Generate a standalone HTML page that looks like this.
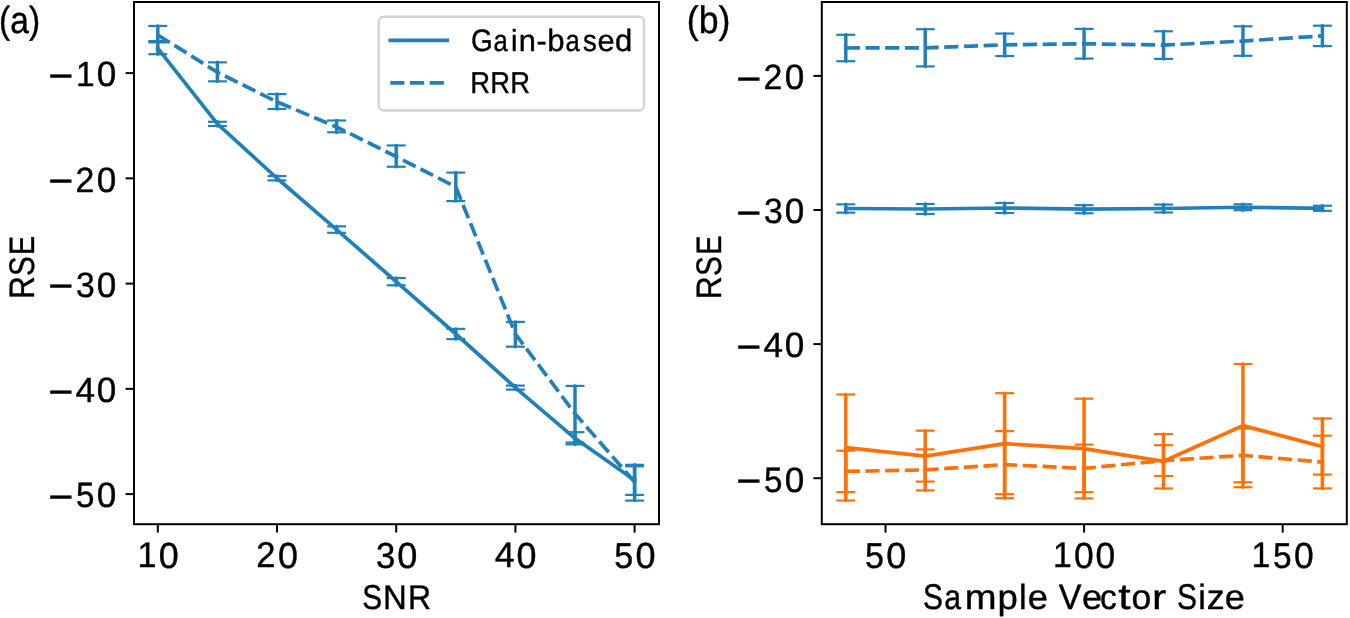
<!DOCTYPE html>
<html><head><meta charset="utf-8"><title>RSE vs SNR and Sample Vector Size</title>
<style>html,body{margin:0;padding:0;background:#fff;width:1350px;height:618px;overflow:hidden}svg{display:block;will-change:transform}text{font-family:"Liberation Sans",sans-serif;text-rendering:geometricPrecision;stroke:#000;stroke-width:0.4px;stroke-linejoin:round}</style>
</head><body>
<svg width="1350" height="618" viewBox="0 0 1350 618">
<rect x="0" y="0" width="1350" height="618" fill="#fff"/>
<g id="panel-a">
<line x1="157.8" y1="42.4" x2="157.8" y2="54.2" stroke="#2180b9" stroke-width="3.5" stroke-linecap="round"/>
<line x1="217.4" y1="121.8" x2="217.4" y2="126" stroke="#2180b9" stroke-width="3.5" stroke-linecap="round"/>
<line x1="277" y1="176.1" x2="277" y2="180.4" stroke="#2180b9" stroke-width="3.5" stroke-linecap="round"/>
<line x1="336.6" y1="226.4" x2="336.6" y2="232.8" stroke="#2180b9" stroke-width="3.5" stroke-linecap="round"/>
<line x1="396.2" y1="278.1" x2="396.2" y2="285.3" stroke="#2180b9" stroke-width="3.5" stroke-linecap="round"/>
<line x1="455.8" y1="328.9" x2="455.8" y2="339.1" stroke="#2180b9" stroke-width="3.5" stroke-linecap="round"/>
<line x1="515.4" y1="385.6" x2="515.4" y2="389.6" stroke="#2180b9" stroke-width="3.5" stroke-linecap="round"/>
<line x1="575" y1="432.2" x2="575" y2="444.4" stroke="#2180b9" stroke-width="3.5" stroke-linecap="round"/>
<line x1="634.6" y1="464.8" x2="634.6" y2="494.9" stroke="#2180b9" stroke-width="3.5" stroke-linecap="round"/>
<line x1="148.35" y1="42.4" x2="167.25" y2="42.4" stroke="#2180b9" stroke-width="2.2" stroke-linecap="butt"/>
<line x1="148.35" y1="54.2" x2="167.25" y2="54.2" stroke="#2180b9" stroke-width="2.2" stroke-linecap="butt"/>
<line x1="207.95" y1="121.8" x2="226.85" y2="121.8" stroke="#2180b9" stroke-width="2.2" stroke-linecap="butt"/>
<line x1="207.95" y1="126" x2="226.85" y2="126" stroke="#2180b9" stroke-width="2.2" stroke-linecap="butt"/>
<line x1="267.55" y1="176.1" x2="286.45" y2="176.1" stroke="#2180b9" stroke-width="2.2" stroke-linecap="butt"/>
<line x1="267.55" y1="180.4" x2="286.45" y2="180.4" stroke="#2180b9" stroke-width="2.2" stroke-linecap="butt"/>
<line x1="327.15" y1="226.4" x2="346.05" y2="226.4" stroke="#2180b9" stroke-width="2.2" stroke-linecap="butt"/>
<line x1="327.15" y1="232.8" x2="346.05" y2="232.8" stroke="#2180b9" stroke-width="2.2" stroke-linecap="butt"/>
<line x1="386.75" y1="278.1" x2="405.65" y2="278.1" stroke="#2180b9" stroke-width="2.2" stroke-linecap="butt"/>
<line x1="386.75" y1="285.3" x2="405.65" y2="285.3" stroke="#2180b9" stroke-width="2.2" stroke-linecap="butt"/>
<line x1="446.35" y1="328.9" x2="465.25" y2="328.9" stroke="#2180b9" stroke-width="2.2" stroke-linecap="butt"/>
<line x1="446.35" y1="339.1" x2="465.25" y2="339.1" stroke="#2180b9" stroke-width="2.2" stroke-linecap="butt"/>
<line x1="505.95" y1="385.6" x2="524.85" y2="385.6" stroke="#2180b9" stroke-width="2.2" stroke-linecap="butt"/>
<line x1="505.95" y1="389.6" x2="524.85" y2="389.6" stroke="#2180b9" stroke-width="2.2" stroke-linecap="butt"/>
<line x1="565.55" y1="432.2" x2="584.45" y2="432.2" stroke="#2180b9" stroke-width="2.2" stroke-linecap="butt"/>
<line x1="565.55" y1="444.4" x2="584.45" y2="444.4" stroke="#2180b9" stroke-width="2.2" stroke-linecap="butt"/>
<line x1="625.15" y1="464.8" x2="644.05" y2="464.8" stroke="#2180b9" stroke-width="2.2" stroke-linecap="butt"/>
<line x1="625.15" y1="494.9" x2="644.05" y2="494.9" stroke="#2180b9" stroke-width="2.2" stroke-linecap="butt"/>
<line x1="157.8" y1="25.95" x2="157.8" y2="41.05" stroke="#2180b9" stroke-width="3.5" stroke-linecap="round"/>
<line x1="217.4" y1="62.35" x2="217.4" y2="81.35" stroke="#2180b9" stroke-width="3.5" stroke-linecap="round"/>
<line x1="277" y1="94.1" x2="277" y2="109" stroke="#2180b9" stroke-width="3.5" stroke-linecap="round"/>
<line x1="336.6" y1="120.5" x2="336.6" y2="132.3" stroke="#2180b9" stroke-width="3.5" stroke-linecap="round"/>
<line x1="396.2" y1="145.45" x2="396.2" y2="166.75" stroke="#2180b9" stroke-width="3.5" stroke-linecap="round"/>
<line x1="455.8" y1="172.6" x2="455.8" y2="201.1" stroke="#2180b9" stroke-width="3.5" stroke-linecap="round"/>
<line x1="515.4" y1="321.9" x2="515.4" y2="346.7" stroke="#2180b9" stroke-width="3.5" stroke-linecap="round"/>
<line x1="575" y1="385.9" x2="575" y2="442.5" stroke="#2180b9" stroke-width="3.5" stroke-linecap="round"/>
<line x1="634.6" y1="466.3" x2="634.6" y2="500.6" stroke="#2180b9" stroke-width="3.5" stroke-linecap="round"/>
<line x1="148.35" y1="25.95" x2="167.25" y2="25.95" stroke="#2180b9" stroke-width="2.2" stroke-linecap="butt"/>
<line x1="148.35" y1="41.05" x2="167.25" y2="41.05" stroke="#2180b9" stroke-width="2.2" stroke-linecap="butt"/>
<line x1="207.95" y1="62.35" x2="226.85" y2="62.35" stroke="#2180b9" stroke-width="2.2" stroke-linecap="butt"/>
<line x1="207.95" y1="81.35" x2="226.85" y2="81.35" stroke="#2180b9" stroke-width="2.2" stroke-linecap="butt"/>
<line x1="267.55" y1="94.1" x2="286.45" y2="94.1" stroke="#2180b9" stroke-width="2.2" stroke-linecap="butt"/>
<line x1="267.55" y1="109" x2="286.45" y2="109" stroke="#2180b9" stroke-width="2.2" stroke-linecap="butt"/>
<line x1="327.15" y1="120.5" x2="346.05" y2="120.5" stroke="#2180b9" stroke-width="2.2" stroke-linecap="butt"/>
<line x1="327.15" y1="132.3" x2="346.05" y2="132.3" stroke="#2180b9" stroke-width="2.2" stroke-linecap="butt"/>
<line x1="386.75" y1="145.45" x2="405.65" y2="145.45" stroke="#2180b9" stroke-width="2.2" stroke-linecap="butt"/>
<line x1="386.75" y1="166.75" x2="405.65" y2="166.75" stroke="#2180b9" stroke-width="2.2" stroke-linecap="butt"/>
<line x1="446.35" y1="172.6" x2="465.25" y2="172.6" stroke="#2180b9" stroke-width="2.2" stroke-linecap="butt"/>
<line x1="446.35" y1="201.1" x2="465.25" y2="201.1" stroke="#2180b9" stroke-width="2.2" stroke-linecap="butt"/>
<line x1="505.95" y1="321.9" x2="524.85" y2="321.9" stroke="#2180b9" stroke-width="2.2" stroke-linecap="butt"/>
<line x1="505.95" y1="346.7" x2="524.85" y2="346.7" stroke="#2180b9" stroke-width="2.2" stroke-linecap="butt"/>
<line x1="565.55" y1="385.9" x2="584.45" y2="385.9" stroke="#2180b9" stroke-width="2.2" stroke-linecap="butt"/>
<line x1="565.55" y1="442.5" x2="584.45" y2="442.5" stroke="#2180b9" stroke-width="2.2" stroke-linecap="butt"/>
<line x1="625.15" y1="466.3" x2="644.05" y2="466.3" stroke="#2180b9" stroke-width="2.2" stroke-linecap="butt"/>
<line x1="625.15" y1="500.6" x2="644.05" y2="500.6" stroke="#2180b9" stroke-width="2.2" stroke-linecap="butt"/>
<polyline points="157.8,48.3 217.4,123.9 277,178.25 336.6,229.6 396.2,281.7 455.8,334 515.4,387.6 575,438.3 634.6,480.1" fill="none" stroke="#2180b9" stroke-width="3.71" stroke-linecap="square" stroke-linejoin="round"/>
<polyline points="157.8,35 217.4,72.25 277,101.85 336.6,127 396.2,156.6 455.8,187.05 515.4,334 575,413.6 634.6,482" fill="none" stroke="#2180b9" stroke-width="3.71" stroke-dasharray="14.15 5.54" stroke-linecap="butt" stroke-linejoin="round"/>
</g>
<g id="panel-b">
<line x1="845.8" y1="34.8" x2="845.8" y2="61.2" stroke="#2180b9" stroke-width="3.5" stroke-linecap="round"/>
<line x1="925.23" y1="29.2" x2="925.23" y2="66.4" stroke="#2180b9" stroke-width="3.5" stroke-linecap="round"/>
<line x1="1004.67" y1="33.55" x2="1004.67" y2="56.05" stroke="#2180b9" stroke-width="3.5" stroke-linecap="round"/>
<line x1="1084.1" y1="28.9" x2="1084.1" y2="58.6" stroke="#2180b9" stroke-width="3.5" stroke-linecap="round"/>
<line x1="1163.54" y1="31.3" x2="1163.54" y2="58.9" stroke="#2180b9" stroke-width="3.5" stroke-linecap="round"/>
<line x1="1242.97" y1="26.3" x2="1242.97" y2="55.8" stroke="#2180b9" stroke-width="3.5" stroke-linecap="round"/>
<line x1="1322.4" y1="25.7" x2="1322.4" y2="46.1" stroke="#2180b9" stroke-width="3.5" stroke-linecap="round"/>
<line x1="836.35" y1="34.8" x2="855.25" y2="34.8" stroke="#2180b9" stroke-width="2.2" stroke-linecap="butt"/>
<line x1="836.35" y1="61.2" x2="855.25" y2="61.2" stroke="#2180b9" stroke-width="2.2" stroke-linecap="butt"/>
<line x1="915.78" y1="29.2" x2="934.68" y2="29.2" stroke="#2180b9" stroke-width="2.2" stroke-linecap="butt"/>
<line x1="915.78" y1="66.4" x2="934.68" y2="66.4" stroke="#2180b9" stroke-width="2.2" stroke-linecap="butt"/>
<line x1="995.22" y1="33.55" x2="1014.12" y2="33.55" stroke="#2180b9" stroke-width="2.2" stroke-linecap="butt"/>
<line x1="995.22" y1="56.05" x2="1014.12" y2="56.05" stroke="#2180b9" stroke-width="2.2" stroke-linecap="butt"/>
<line x1="1074.65" y1="28.9" x2="1093.55" y2="28.9" stroke="#2180b9" stroke-width="2.2" stroke-linecap="butt"/>
<line x1="1074.65" y1="58.6" x2="1093.55" y2="58.6" stroke="#2180b9" stroke-width="2.2" stroke-linecap="butt"/>
<line x1="1154.09" y1="31.3" x2="1172.99" y2="31.3" stroke="#2180b9" stroke-width="2.2" stroke-linecap="butt"/>
<line x1="1154.09" y1="58.9" x2="1172.99" y2="58.9" stroke="#2180b9" stroke-width="2.2" stroke-linecap="butt"/>
<line x1="1233.52" y1="26.3" x2="1252.42" y2="26.3" stroke="#2180b9" stroke-width="2.2" stroke-linecap="butt"/>
<line x1="1233.52" y1="55.8" x2="1252.42" y2="55.8" stroke="#2180b9" stroke-width="2.2" stroke-linecap="butt"/>
<line x1="1312.95" y1="25.7" x2="1331.85" y2="25.7" stroke="#2180b9" stroke-width="2.2" stroke-linecap="butt"/>
<line x1="1312.95" y1="46.1" x2="1331.85" y2="46.1" stroke="#2180b9" stroke-width="2.2" stroke-linecap="butt"/>
<line x1="845.8" y1="204.35" x2="845.8" y2="212.65" stroke="#2180b9" stroke-width="3.5" stroke-linecap="round"/>
<line x1="925.23" y1="204" x2="925.23" y2="214" stroke="#2180b9" stroke-width="3.5" stroke-linecap="round"/>
<line x1="1004.67" y1="203" x2="1004.67" y2="213" stroke="#2180b9" stroke-width="3.5" stroke-linecap="round"/>
<line x1="1084.1" y1="205.15" x2="1084.1" y2="213.25" stroke="#2180b9" stroke-width="3.5" stroke-linecap="round"/>
<line x1="1163.54" y1="204.55" x2="1163.54" y2="212.45" stroke="#2180b9" stroke-width="3.5" stroke-linecap="round"/>
<line x1="1242.97" y1="204.3" x2="1242.97" y2="210.2" stroke="#2180b9" stroke-width="3.5" stroke-linecap="round"/>
<line x1="1322.4" y1="205.75" x2="1322.4" y2="210.85" stroke="#2180b9" stroke-width="3.5" stroke-linecap="round"/>
<line x1="836.35" y1="204.35" x2="855.25" y2="204.35" stroke="#2180b9" stroke-width="2.2" stroke-linecap="butt"/>
<line x1="836.35" y1="212.65" x2="855.25" y2="212.65" stroke="#2180b9" stroke-width="2.2" stroke-linecap="butt"/>
<line x1="915.78" y1="204" x2="934.68" y2="204" stroke="#2180b9" stroke-width="2.2" stroke-linecap="butt"/>
<line x1="915.78" y1="214" x2="934.68" y2="214" stroke="#2180b9" stroke-width="2.2" stroke-linecap="butt"/>
<line x1="995.22" y1="203" x2="1014.12" y2="203" stroke="#2180b9" stroke-width="2.2" stroke-linecap="butt"/>
<line x1="995.22" y1="213" x2="1014.12" y2="213" stroke="#2180b9" stroke-width="2.2" stroke-linecap="butt"/>
<line x1="1074.65" y1="205.15" x2="1093.55" y2="205.15" stroke="#2180b9" stroke-width="2.2" stroke-linecap="butt"/>
<line x1="1074.65" y1="213.25" x2="1093.55" y2="213.25" stroke="#2180b9" stroke-width="2.2" stroke-linecap="butt"/>
<line x1="1154.09" y1="204.55" x2="1172.99" y2="204.55" stroke="#2180b9" stroke-width="2.2" stroke-linecap="butt"/>
<line x1="1154.09" y1="212.45" x2="1172.99" y2="212.45" stroke="#2180b9" stroke-width="2.2" stroke-linecap="butt"/>
<line x1="1233.52" y1="204.3" x2="1252.42" y2="204.3" stroke="#2180b9" stroke-width="2.2" stroke-linecap="butt"/>
<line x1="1233.52" y1="210.2" x2="1252.42" y2="210.2" stroke="#2180b9" stroke-width="2.2" stroke-linecap="butt"/>
<line x1="1312.95" y1="205.75" x2="1331.85" y2="205.75" stroke="#2180b9" stroke-width="2.2" stroke-linecap="butt"/>
<line x1="1312.95" y1="210.85" x2="1331.85" y2="210.85" stroke="#2180b9" stroke-width="2.2" stroke-linecap="butt"/>
<line x1="845.8" y1="394.5" x2="845.8" y2="500.5" stroke="#ff7006" stroke-width="3.5" stroke-linecap="round"/>
<line x1="925.23" y1="430.7" x2="925.23" y2="481.6" stroke="#ff7006" stroke-width="3.5" stroke-linecap="round"/>
<line x1="1004.67" y1="393.2" x2="1004.67" y2="494.2" stroke="#ff7006" stroke-width="3.5" stroke-linecap="round"/>
<line x1="1084.1" y1="398.7" x2="1084.1" y2="498.4" stroke="#ff7006" stroke-width="3.5" stroke-linecap="round"/>
<line x1="1163.54" y1="434.1" x2="1163.54" y2="488.5" stroke="#ff7006" stroke-width="3.5" stroke-linecap="round"/>
<line x1="1242.97" y1="364" x2="1242.97" y2="487.2" stroke="#ff7006" stroke-width="3.5" stroke-linecap="round"/>
<line x1="1322.4" y1="418.5" x2="1322.4" y2="474.6" stroke="#ff7006" stroke-width="3.5" stroke-linecap="round"/>
<line x1="836.35" y1="394.5" x2="855.25" y2="394.5" stroke="#ff7006" stroke-width="2.2" stroke-linecap="butt"/>
<line x1="836.35" y1="500.5" x2="855.25" y2="500.5" stroke="#ff7006" stroke-width="2.2" stroke-linecap="butt"/>
<line x1="915.78" y1="430.7" x2="934.68" y2="430.7" stroke="#ff7006" stroke-width="2.2" stroke-linecap="butt"/>
<line x1="915.78" y1="481.6" x2="934.68" y2="481.6" stroke="#ff7006" stroke-width="2.2" stroke-linecap="butt"/>
<line x1="995.22" y1="393.2" x2="1014.12" y2="393.2" stroke="#ff7006" stroke-width="2.2" stroke-linecap="butt"/>
<line x1="995.22" y1="494.2" x2="1014.12" y2="494.2" stroke="#ff7006" stroke-width="2.2" stroke-linecap="butt"/>
<line x1="1074.65" y1="398.7" x2="1093.55" y2="398.7" stroke="#ff7006" stroke-width="2.2" stroke-linecap="butt"/>
<line x1="1074.65" y1="498.4" x2="1093.55" y2="498.4" stroke="#ff7006" stroke-width="2.2" stroke-linecap="butt"/>
<line x1="1154.09" y1="434.1" x2="1172.99" y2="434.1" stroke="#ff7006" stroke-width="2.2" stroke-linecap="butt"/>
<line x1="1154.09" y1="488.5" x2="1172.99" y2="488.5" stroke="#ff7006" stroke-width="2.2" stroke-linecap="butt"/>
<line x1="1233.52" y1="364" x2="1252.42" y2="364" stroke="#ff7006" stroke-width="2.2" stroke-linecap="butt"/>
<line x1="1233.52" y1="487.2" x2="1252.42" y2="487.2" stroke="#ff7006" stroke-width="2.2" stroke-linecap="butt"/>
<line x1="1312.95" y1="418.5" x2="1331.85" y2="418.5" stroke="#ff7006" stroke-width="2.2" stroke-linecap="butt"/>
<line x1="1312.95" y1="474.6" x2="1331.85" y2="474.6" stroke="#ff7006" stroke-width="2.2" stroke-linecap="butt"/>
<line x1="845.8" y1="450.7" x2="845.8" y2="492.1" stroke="#ff7006" stroke-width="3.5" stroke-linecap="round"/>
<line x1="925.23" y1="449.4" x2="925.23" y2="490.4" stroke="#ff7006" stroke-width="3.5" stroke-linecap="round"/>
<line x1="1004.67" y1="431.1" x2="1004.67" y2="498.2" stroke="#ff7006" stroke-width="3.5" stroke-linecap="round"/>
<line x1="1084.1" y1="444.6" x2="1084.1" y2="492.2" stroke="#ff7006" stroke-width="3.5" stroke-linecap="round"/>
<line x1="1163.54" y1="445.2" x2="1163.54" y2="476" stroke="#ff7006" stroke-width="3.5" stroke-linecap="round"/>
<line x1="1242.97" y1="428.5" x2="1242.97" y2="482.3" stroke="#ff7006" stroke-width="3.5" stroke-linecap="round"/>
<line x1="1322.4" y1="435.7" x2="1322.4" y2="488.4" stroke="#ff7006" stroke-width="3.5" stroke-linecap="round"/>
<line x1="836.35" y1="450.7" x2="855.25" y2="450.7" stroke="#ff7006" stroke-width="2.2" stroke-linecap="butt"/>
<line x1="836.35" y1="492.1" x2="855.25" y2="492.1" stroke="#ff7006" stroke-width="2.2" stroke-linecap="butt"/>
<line x1="915.78" y1="449.4" x2="934.68" y2="449.4" stroke="#ff7006" stroke-width="2.2" stroke-linecap="butt"/>
<line x1="915.78" y1="490.4" x2="934.68" y2="490.4" stroke="#ff7006" stroke-width="2.2" stroke-linecap="butt"/>
<line x1="995.22" y1="431.1" x2="1014.12" y2="431.1" stroke="#ff7006" stroke-width="2.2" stroke-linecap="butt"/>
<line x1="995.22" y1="498.2" x2="1014.12" y2="498.2" stroke="#ff7006" stroke-width="2.2" stroke-linecap="butt"/>
<line x1="1074.65" y1="444.6" x2="1093.55" y2="444.6" stroke="#ff7006" stroke-width="2.2" stroke-linecap="butt"/>
<line x1="1074.65" y1="492.2" x2="1093.55" y2="492.2" stroke="#ff7006" stroke-width="2.2" stroke-linecap="butt"/>
<line x1="1154.09" y1="445.2" x2="1172.99" y2="445.2" stroke="#ff7006" stroke-width="2.2" stroke-linecap="butt"/>
<line x1="1154.09" y1="476" x2="1172.99" y2="476" stroke="#ff7006" stroke-width="2.2" stroke-linecap="butt"/>
<line x1="1233.52" y1="428.5" x2="1252.42" y2="428.5" stroke="#ff7006" stroke-width="2.2" stroke-linecap="butt"/>
<line x1="1233.52" y1="482.3" x2="1252.42" y2="482.3" stroke="#ff7006" stroke-width="2.2" stroke-linecap="butt"/>
<line x1="1312.95" y1="435.7" x2="1331.85" y2="435.7" stroke="#ff7006" stroke-width="2.2" stroke-linecap="butt"/>
<line x1="1312.95" y1="488.4" x2="1331.85" y2="488.4" stroke="#ff7006" stroke-width="2.2" stroke-linecap="butt"/>
<polyline points="845.8,48 925.23,47.8 1004.67,44.8 1084.1,43.75 1163.54,45.1 1242.97,41.05 1322.4,35.9" fill="none" stroke="#2180b9" stroke-width="3.71" stroke-dasharray="14.15 5.54" stroke-linecap="butt" stroke-linejoin="round"/>
<polyline points="845.8,208.5 925.23,209 1004.67,208 1084.1,209.2 1163.54,208.5 1242.97,207.25 1322.4,208.3" fill="none" stroke="#2180b9" stroke-width="3.71" stroke-linecap="square" stroke-linejoin="round"/>
<polyline points="845.8,447.5 925.23,456.15 1004.67,443.7 1084.1,448.55 1163.54,461.3 1242.97,425.6 1322.4,446.55" fill="none" stroke="#ff7006" stroke-width="3.71" stroke-linecap="square" stroke-linejoin="round"/>
<polyline points="845.8,471.4 925.23,469.9 1004.67,464.65 1084.1,468.4 1163.54,460.6 1242.97,455.4 1322.4,462.05" fill="none" stroke="#ff7006" stroke-width="3.71" stroke-dasharray="14.15 5.54" stroke-linecap="butt" stroke-linejoin="round"/>
</g>
<rect x="134" y="2" width="525" height="522.2" fill="none" stroke="#000" stroke-width="2.0" stroke-linejoin="miter"/>
<rect x="821.8" y="2" width="525" height="522.2" fill="none" stroke="#000" stroke-width="2.0" stroke-linejoin="miter"/>
<line x1="125.6" y1="73.1" x2="134" y2="73.1" stroke="#000" stroke-width="2.0" stroke-linecap="butt"/>
<line x1="125.6" y1="178.35" x2="134" y2="178.35" stroke="#000" stroke-width="2.0" stroke-linecap="butt"/>
<line x1="125.6" y1="283.6" x2="134" y2="283.6" stroke="#000" stroke-width="2.0" stroke-linecap="butt"/>
<line x1="125.6" y1="388.85" x2="134" y2="388.85" stroke="#000" stroke-width="2.0" stroke-linecap="butt"/>
<line x1="125.6" y1="494.1" x2="134" y2="494.1" stroke="#000" stroke-width="2.0" stroke-linecap="butt"/>
<line x1="157.8" y1="524.2" x2="157.8" y2="532.6" stroke="#000" stroke-width="2.0" stroke-linecap="butt"/>
<line x1="277" y1="524.2" x2="277" y2="532.6" stroke="#000" stroke-width="2.0" stroke-linecap="butt"/>
<line x1="396.2" y1="524.2" x2="396.2" y2="532.6" stroke="#000" stroke-width="2.0" stroke-linecap="butt"/>
<line x1="515.4" y1="524.2" x2="515.4" y2="532.6" stroke="#000" stroke-width="2.0" stroke-linecap="butt"/>
<line x1="634.6" y1="524.2" x2="634.6" y2="532.6" stroke="#000" stroke-width="2.0" stroke-linecap="butt"/>
<line x1="813.4" y1="75.9" x2="821.8" y2="75.9" stroke="#000" stroke-width="2.0" stroke-linecap="butt"/>
<line x1="813.4" y1="210" x2="821.8" y2="210" stroke="#000" stroke-width="2.0" stroke-linecap="butt"/>
<line x1="813.4" y1="344.1" x2="821.8" y2="344.1" stroke="#000" stroke-width="2.0" stroke-linecap="butt"/>
<line x1="813.4" y1="478.2" x2="821.8" y2="478.2" stroke="#000" stroke-width="2.0" stroke-linecap="butt"/>
<line x1="885.5" y1="524.2" x2="885.5" y2="532.6" stroke="#000" stroke-width="2.0" stroke-linecap="butt"/>
<line x1="1084.1" y1="524.2" x2="1084.1" y2="532.6" stroke="#000" stroke-width="2.0" stroke-linecap="butt"/>
<line x1="1282.7" y1="524.2" x2="1282.7" y2="532.6" stroke="#000" stroke-width="2.0" stroke-linecap="butt"/>
<text transform="translate(140.05 567.38)" font-size="33.80" fill="#000"><tspan x="-2.6" y="0" font-size="35.81" textLength="19.06" lengthAdjust="spacingAndGlyphs">1</tspan><tspan x="18.75" y="0.11" font-size="36.09" textLength="19.95" lengthAdjust="spacingAndGlyphs">0</tspan></text>
<text transform="translate(258 567.38)" font-size="33.80" fill="#000"><tspan x="-1.73" y="0" font-size="35.93" textLength="19.23" lengthAdjust="spacingAndGlyphs">2</tspan><tspan x="20.03" y="0.11" font-size="36.09" textLength="19.97" lengthAdjust="spacingAndGlyphs">0</tspan></text>
<text transform="translate(377.25 567.38)" font-size="33.80" fill="#000"><tspan x="-1.32" y="0.11" font-size="36.09" textLength="19.28" lengthAdjust="spacingAndGlyphs">3</tspan><tspan x="20.03" y="0.11" font-size="36.09" textLength="20.08" lengthAdjust="spacingAndGlyphs">0</tspan></text>
<text transform="translate(495.6 567.38)" font-size="33.80" fill="#000"><tspan x="-0.83" y="0" font-size="35.81" textLength="19.95" lengthAdjust="spacingAndGlyphs">4</tspan><tspan x="20.84" y="0.11" font-size="36.09" textLength="19.97" lengthAdjust="spacingAndGlyphs">0</tspan></text>
<text transform="translate(615.5 567.38)" font-size="33.80" fill="#000"><tspan x="-1.36" y="0.11" font-size="35.98" textLength="18.93" lengthAdjust="spacingAndGlyphs">5</tspan><tspan x="19.97" y="0.11" font-size="36.09" textLength="20.04" lengthAdjust="spacingAndGlyphs">0</tspan></text>
<text transform="translate(866.4 567.38)" font-size="33.80" fill="#000"><tspan x="-1.36" y="0.11" font-size="35.98" textLength="18.93" lengthAdjust="spacingAndGlyphs">5</tspan><tspan x="19.97" y="0.11" font-size="36.09" textLength="20.04" lengthAdjust="spacingAndGlyphs">0</tspan></text>
<text transform="translate(1055.5 567.38)" font-size="33.80" fill="#000"><tspan x="-2.57" y="0" font-size="35.81" textLength="18.81" lengthAdjust="spacingAndGlyphs">1</tspan><tspan x="18.51" y="0.11" font-size="36.09" textLength="19.70" lengthAdjust="spacingAndGlyphs">0</tspan><tspan x="39.89" y="0.11" font-size="36.09" textLength="19.70" lengthAdjust="spacingAndGlyphs">0</tspan></text>
<text transform="translate(1254.1 567.38)" font-size="33.80" fill="#000"><tspan x="-2.57" y="0" font-size="35.81" textLength="18.81" lengthAdjust="spacingAndGlyphs">1</tspan><tspan x="18.93" y="0.11" font-size="35.98" textLength="18.60" lengthAdjust="spacingAndGlyphs">5</tspan><tspan x="39.89" y="0.11" font-size="36.09" textLength="19.70" lengthAdjust="spacingAndGlyphs">0</tspan></text>
<text transform="translate(50.4 86.31)" font-size="33.03" fill="#000"><tspan x="-2.1" y="2.48" font-size="38.61" textLength="25.07" lengthAdjust="spacingAndGlyphs">−</tspan><tspan x="25.51" y="-0" font-size="35.00" textLength="18.67" lengthAdjust="spacingAndGlyphs">1</tspan><tspan x="46.43" y="0.11" font-size="35.27" textLength="19.55" lengthAdjust="spacingAndGlyphs">0</tspan></text>
<text transform="translate(50.4 191.56)" font-size="33.03" fill="#000"><tspan x="-2.1" y="2.48" font-size="38.61" textLength="25.07" lengthAdjust="spacingAndGlyphs">−</tspan><tspan x="25.14" y="0" font-size="35.11" textLength="18.82" lengthAdjust="spacingAndGlyphs">2</tspan><tspan x="46.43" y="0.11" font-size="35.27" textLength="19.55" lengthAdjust="spacingAndGlyphs">0</tspan></text>
<text transform="translate(50.4 296.81)" font-size="33.03" fill="#000"><tspan x="-2.1" y="2.48" font-size="38.61" textLength="25.07" lengthAdjust="spacingAndGlyphs">−</tspan><tspan x="25.65" y="0.11" font-size="35.27" textLength="18.77" lengthAdjust="spacingAndGlyphs">3</tspan><tspan x="46.43" y="0.11" font-size="35.27" textLength="19.55" lengthAdjust="spacingAndGlyphs">0</tspan></text>
<text transform="translate(50.4 402.06)" font-size="33.03" fill="#000"><tspan x="-2.1" y="2.48" font-size="38.61" textLength="25.07" lengthAdjust="spacingAndGlyphs">−</tspan><tspan x="25.22" y="0" font-size="35.00" textLength="19.53" lengthAdjust="spacingAndGlyphs">4</tspan><tspan x="46.43" y="0.11" font-size="35.27" textLength="19.55" lengthAdjust="spacingAndGlyphs">0</tspan></text>
<text transform="translate(50.4 507.31)" font-size="33.03" fill="#000"><tspan x="-2.1" y="2.48" font-size="38.61" textLength="25.07" lengthAdjust="spacingAndGlyphs">−</tspan><tspan x="25.63" y="0.11" font-size="35.16" textLength="18.46" lengthAdjust="spacingAndGlyphs">5</tspan><tspan x="46.43" y="0.11" font-size="35.27" textLength="19.55" lengthAdjust="spacingAndGlyphs">0</tspan></text>
<text transform="translate(738.4 89.11)" font-size="33.03" fill="#000"><tspan x="-2.1" y="2.48" font-size="38.61" textLength="25.07" lengthAdjust="spacingAndGlyphs">−</tspan><tspan x="25.14" y="0" font-size="35.11" textLength="18.82" lengthAdjust="spacingAndGlyphs">2</tspan><tspan x="46.43" y="0.11" font-size="35.27" textLength="19.55" lengthAdjust="spacingAndGlyphs">0</tspan></text>
<text transform="translate(738.4 223.21)" font-size="33.03" fill="#000"><tspan x="-2.1" y="2.48" font-size="38.61" textLength="25.07" lengthAdjust="spacingAndGlyphs">−</tspan><tspan x="25.65" y="0.11" font-size="35.27" textLength="18.77" lengthAdjust="spacingAndGlyphs">3</tspan><tspan x="46.43" y="0.11" font-size="35.27" textLength="19.55" lengthAdjust="spacingAndGlyphs">0</tspan></text>
<text transform="translate(738.4 357.31)" font-size="33.03" fill="#000"><tspan x="-2.1" y="2.48" font-size="38.61" textLength="25.07" lengthAdjust="spacingAndGlyphs">−</tspan><tspan x="25.22" y="0" font-size="35.00" textLength="19.53" lengthAdjust="spacingAndGlyphs">4</tspan><tspan x="46.43" y="0.11" font-size="35.27" textLength="19.55" lengthAdjust="spacingAndGlyphs">0</tspan></text>
<text transform="translate(738.4 491.41)" font-size="33.03" fill="#000"><tspan x="-2.1" y="2.48" font-size="38.61" textLength="25.07" lengthAdjust="spacingAndGlyphs">−</tspan><tspan x="25.63" y="0.11" font-size="35.16" textLength="18.46" lengthAdjust="spacingAndGlyphs">5</tspan><tspan x="46.43" y="0.11" font-size="35.27" textLength="19.55" lengthAdjust="spacingAndGlyphs">0</tspan></text>
<text transform="translate(363.5 608.85)" font-size="32.41" fill="#000"><tspan x="-1.37" y="0.11" font-size="34.60" textLength="19.87" lengthAdjust="spacingAndGlyphs">S</tspan><tspan x="19.56" y="-0" font-size="34.34" textLength="23.81" lengthAdjust="spacingAndGlyphs">N</tspan><tspan x="44.61" y="-0" font-size="34.34" textLength="23.09" lengthAdjust="spacingAndGlyphs">R</tspan></text>
<text transform="translate(924.5 608.94)" font-size="33.47" fill="#000"><tspan x="-1.38" y="0.11" font-size="35.74" textLength="19.95" lengthAdjust="spacingAndGlyphs">S</tspan><tspan x="19.82" y="0.12" font-size="35.06" textLength="16.76" lengthAdjust="spacingAndGlyphs">a</tspan><tspan x="40.15" y="0" font-size="34.84" textLength="31.79" lengthAdjust="spacingAndGlyphs">m</tspan><tspan x="72.95" y="-0.21" font-size="34.46" textLength="20.31" lengthAdjust="spacingAndGlyphs">p</tspan><tspan x="94.41" y="-0" font-size="35.09" textLength="7.62" lengthAdjust="spacingAndGlyphs">l</tspan><tspan x="103.2" y="0.12" font-size="35.06" textLength="20.12" lengthAdjust="spacingAndGlyphs">e</tspan> <tspan x="134.26" y="0" font-size="35.47" textLength="22.74" lengthAdjust="spacingAndGlyphs">V</tspan><tspan x="157.42" y="0.12" font-size="35.06" textLength="20.12" lengthAdjust="spacingAndGlyphs">e</tspan><tspan x="175.55" y="0.12" font-size="35.06" textLength="16.80" lengthAdjust="spacingAndGlyphs">c</tspan><tspan x="193.79" y="-0.29" font-size="35.93" textLength="12.41" lengthAdjust="spacingAndGlyphs">t</tspan><tspan x="207.05" y="0.12" font-size="35.06" textLength="19.83" lengthAdjust="spacingAndGlyphs">o</tspan><tspan x="227.44" y="0" font-size="34.84" textLength="14.29" lengthAdjust="spacingAndGlyphs">r</tspan> <tspan x="252.5" y="0.11" font-size="35.74" textLength="19.95" lengthAdjust="spacingAndGlyphs">S</tspan><tspan x="273.8" y="-0" font-size="35.09" textLength="7.62" lengthAdjust="spacingAndGlyphs">i</tspan><tspan x="282.22" y="0" font-size="34.68" textLength="17.99" lengthAdjust="spacingAndGlyphs">z</tspan><tspan x="300.18" y="0.12" font-size="35.06" textLength="20.12" lengthAdjust="spacingAndGlyphs">e</tspan></text>
<text transform="translate(33.53 296.5) rotate(-90)" font-size="33.33" fill="#000"><tspan x="-2.6" y="0" font-size="35.32" textLength="22.87" lengthAdjust="spacingAndGlyphs">R</tspan><tspan x="20.56" y="0.11" font-size="35.59" textLength="19.68" lengthAdjust="spacingAndGlyphs">S</tspan><tspan x="41.61" y="0" font-size="35.32" textLength="19.12" lengthAdjust="spacingAndGlyphs">E</tspan></text>
<text transform="translate(721.24 296.6) rotate(-90)" font-size="33.20" fill="#000"><tspan x="-2.61" y="0" font-size="35.18" textLength="22.99" lengthAdjust="spacingAndGlyphs">R</tspan><tspan x="20.66" y="0.11" font-size="35.45" textLength="19.77" lengthAdjust="spacingAndGlyphs">S</tspan><tspan x="41.82" y="0" font-size="35.18" textLength="19.22" lengthAdjust="spacingAndGlyphs">E</tspan></text>
<text transform="translate(-0.88 32.6) scale(0.8899 1)" font-size="37.66" fill="#000">(a)</text>
<text transform="translate(686.79 32.85) scale(0.9294 1)" font-size="38.41" fill="#000">(b)</text>
<rect x="378.7" y="16.8" width="265.4" height="93.7" rx="5" ry="5" fill="#fff" fill-opacity="0.8" stroke="#d4d4d4" stroke-width="2.4"/>
<line x1="390.3" y1="40.4" x2="447.3" y2="40.4" stroke="#2180b9" stroke-width="3.71" stroke-linecap="square"/>
<line x1="390.3" y1="82.8" x2="447.3" y2="82.8" stroke="#2180b9" stroke-width="3.71" stroke-dasharray="14.15 5.54" stroke-linecap="butt"/>
<text transform="translate(472.3 50.69)" font-size="29.07" fill="#000"><tspan x="-1.39" y="0.1" font-size="31.04" textLength="21.67" lengthAdjust="spacingAndGlyphs">G</tspan><tspan x="21.17" y="0.1" font-size="30.45" textLength="14.28" lengthAdjust="spacingAndGlyphs">a</tspan><tspan x="38.76" y="0" font-size="30.47" textLength="6.49" lengthAdjust="spacingAndGlyphs">i</tspan><tspan x="46.54" y="0" font-size="30.26" textLength="17.12" lengthAdjust="spacingAndGlyphs">n</tspan><tspan x="64.12" y="-0.03" font-size="29.82" textLength="10.21" lengthAdjust="spacingAndGlyphs">-</tspan><tspan x="74.96" y="0.1" font-size="30.61" textLength="17.30" lengthAdjust="spacingAndGlyphs">b</tspan><tspan x="93.14" y="0.1" font-size="30.45" textLength="14.28" lengthAdjust="spacingAndGlyphs">a</tspan><tspan x="110.79" y="0.1" font-size="30.50" textLength="13.69" lengthAdjust="spacingAndGlyphs">s</tspan><tspan x="125.17" y="0.1" font-size="30.45" textLength="17.14" lengthAdjust="spacingAndGlyphs">e</tspan><tspan x="142.73" y="0.1" font-size="30.61" textLength="17.26" lengthAdjust="spacingAndGlyphs">d</tspan></text>
<text transform="translate(472.6 93.3)" font-size="28.40" fill="#000"><tspan x="-2.25" y="0" font-size="30.09" textLength="19.82" lengthAdjust="spacingAndGlyphs">R</tspan><tspan x="17.66" y="0" font-size="30.09" textLength="19.82" lengthAdjust="spacingAndGlyphs">R</tspan><tspan x="37.57" y="0" font-size="30.09" textLength="19.82" lengthAdjust="spacingAndGlyphs">R</tspan></text>
</svg>
</body></html>
